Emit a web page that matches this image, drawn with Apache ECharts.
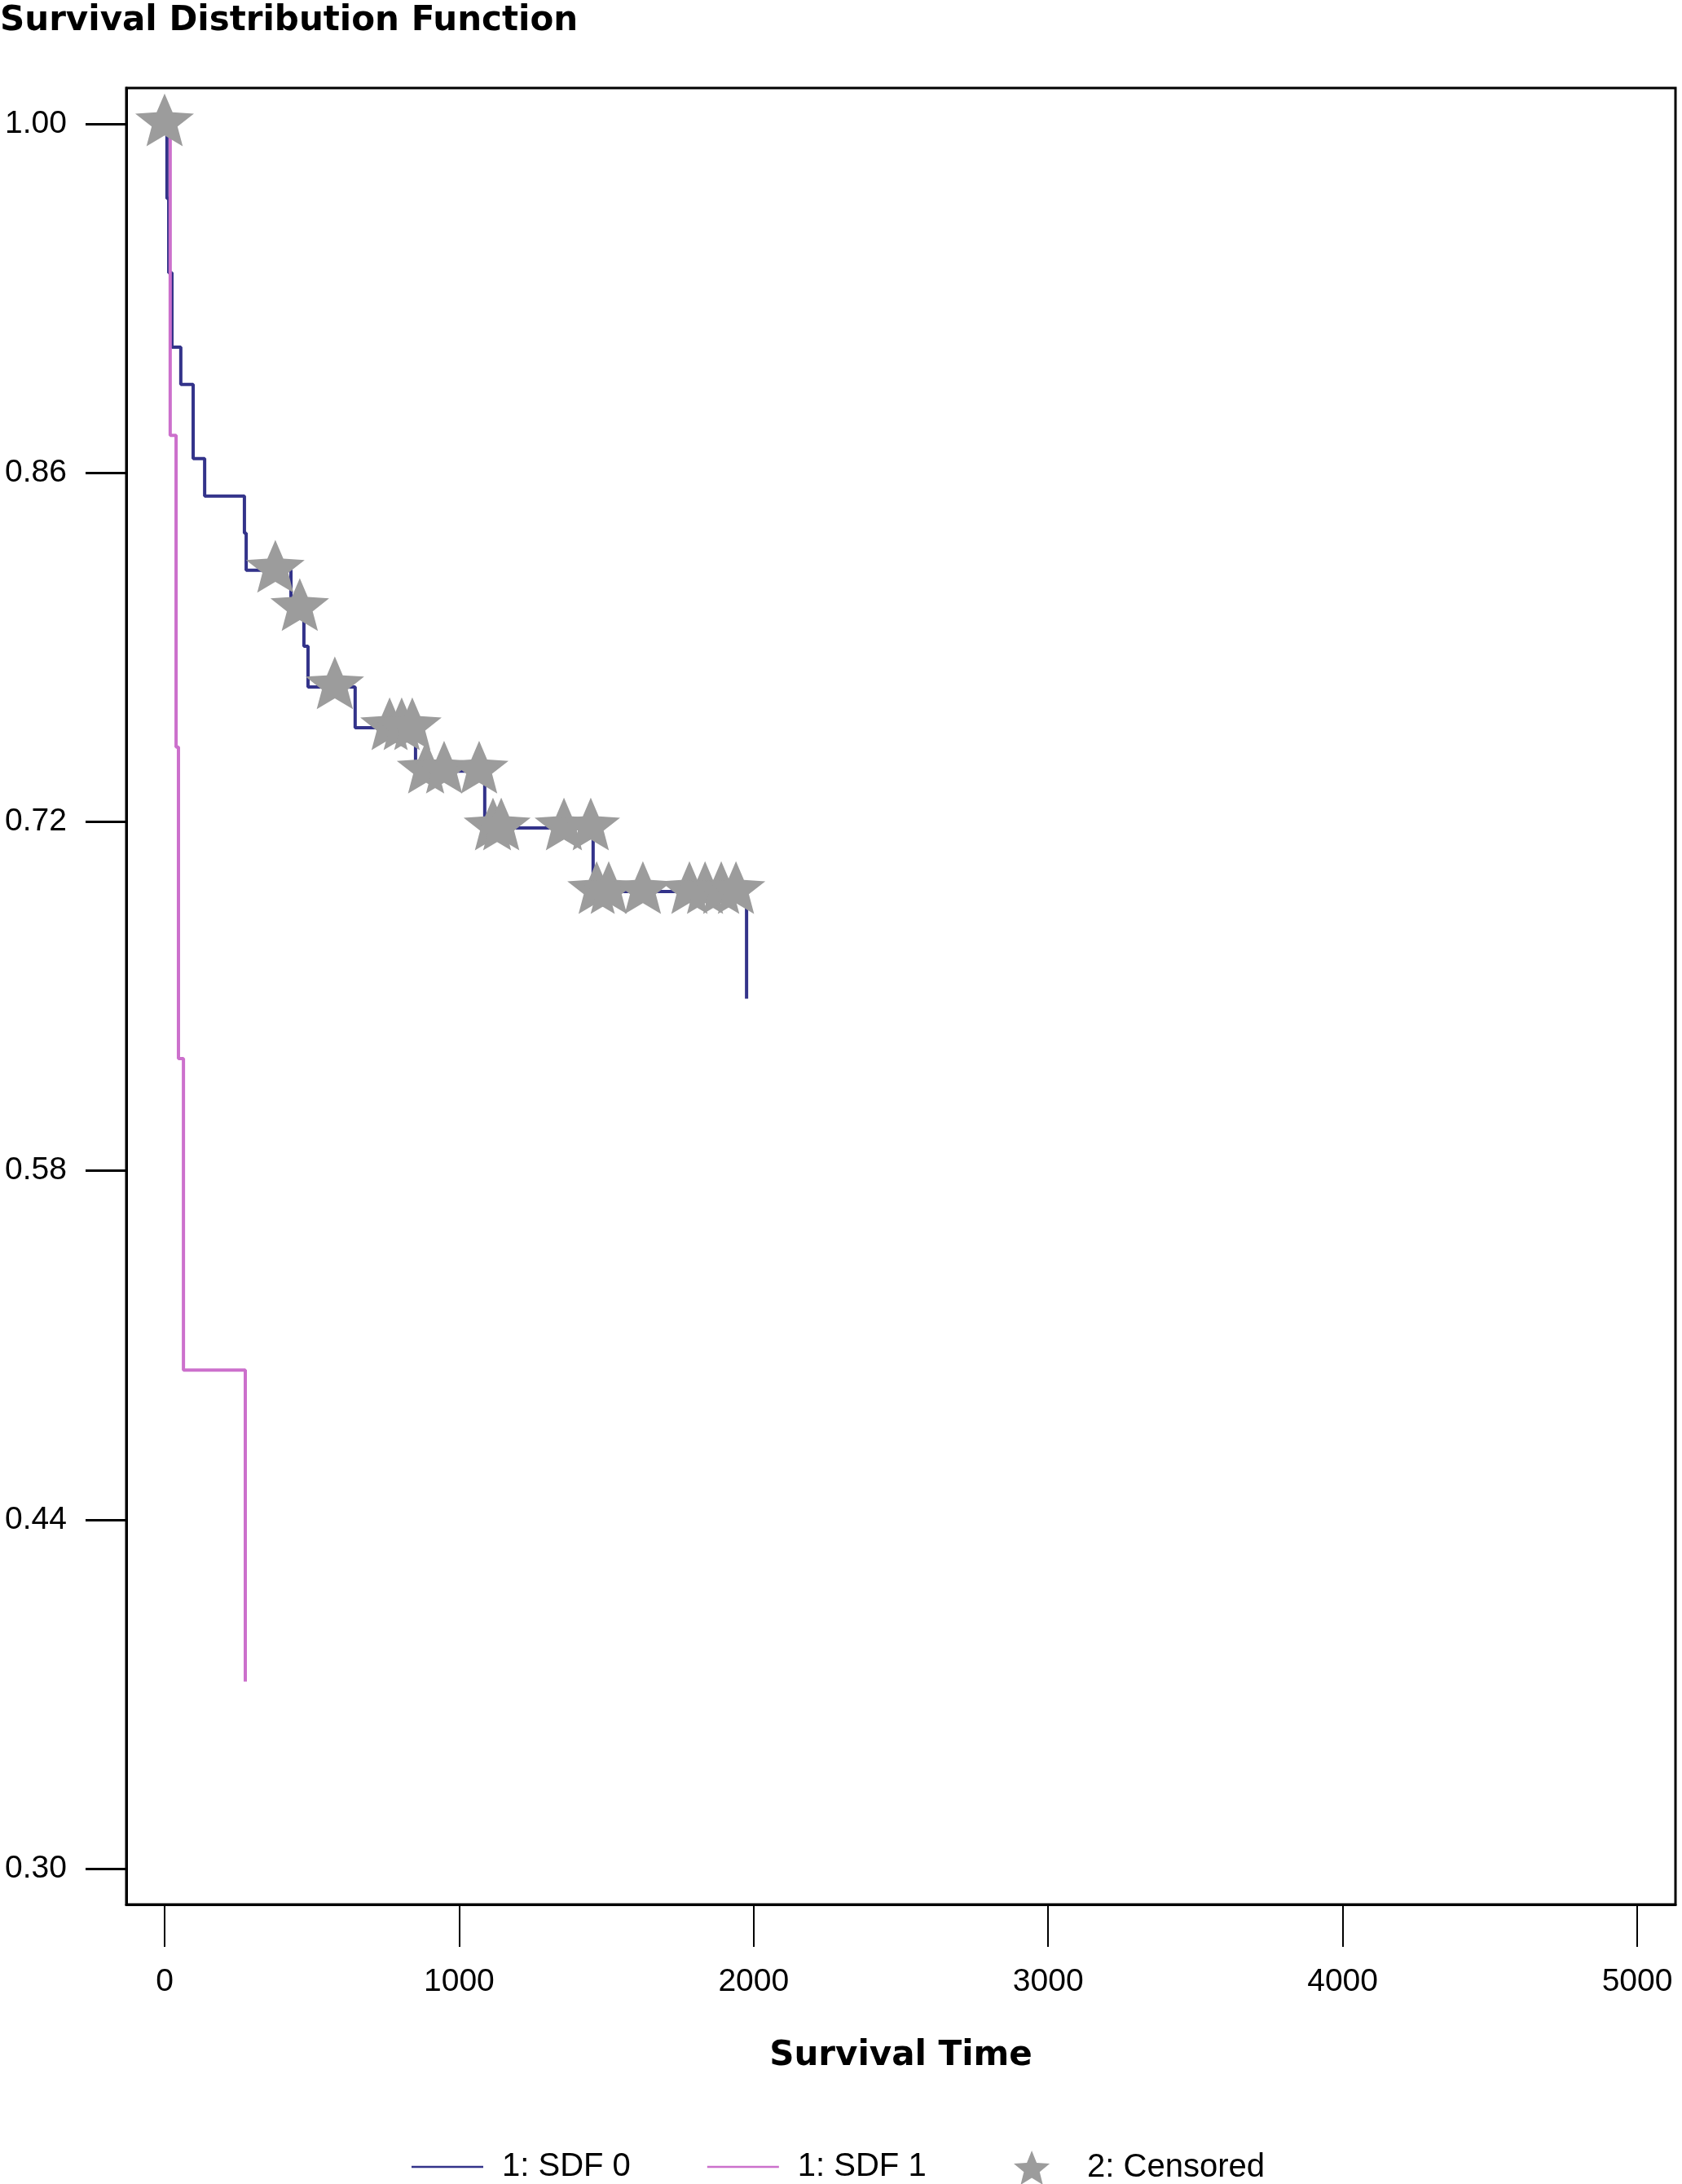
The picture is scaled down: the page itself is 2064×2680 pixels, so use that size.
<!DOCTYPE html>
<html>
<head>
<meta charset="utf-8">
<title>Survival Distribution Function</title>
<script src="https://cdn.jsdelivr.net/npm/echarts@6/dist/echarts.min.js"></script>
<style>
  html, body { margin: 0; padding: 0; background: #fff; }
  #main { width: 2064px; height: 2680px; }
</style>
</head>
<body>
<div id="main"></div>
<script>
// step points: time where the curve drops, and the new survival value
const sdf0Time = [0, 8, 14, 25, 55, 97, 136, 271, 277, 429, 473, 487, 647, 852, 1087, 1455, 1976];
const sdf0Surv = [1, 0.9701, 0.9403, 0.9104, 0.8955, 0.8657, 0.8507, 0.8358, 0.8209, 0.8055, 0.7904, 0.7741, 0.7577, 0.7403, 0.7175, 0.692, 0.649];

const sdf1Time = [0, 19, 39, 47, 64, 274];
const sdf1Surv = [1, 0.875, 0.75, 0.625, 0.5, 0.375];

// censored observations
const censTime = [0, 376, 459, 578, 764, 805, 841, 888, 949, 1068, 1115, 1143, 1356, 1447, 1467, 1508, 1624, 1782, 1835, 1890, 1940];
const censSurv = [1, 0.8209, 0.8055, 0.7741, 0.7577, 0.7577, 0.7577, 0.7403, 0.7403, 0.7403, 0.7175, 0.7175, 0.7175, 0.7175, 0.692, 0.692, 0.692, 0.692, 0.692, 0.692, 0.692];

const xTicks = [0, 1000, 2000, 3000, 4000, 5000];
const yTicks = [0.30, 0.44, 0.58, 0.72, 0.86, 1.00];

const navy = '#33338a';
const pink = '#cc70cc';
const grey = '#9c9c9c';
const star = 'path://M50,0 L62.93,32.2 L97.55,34.55 L70.92,56.8 L79.39,90.45 L50,72 L20.61,90.45 L29.08,56.8 L2.45,34.55 L37.07,32.2 Z';
const bar = 'path://M0,0 L100,0 L100,3 L0,3 Z';
const sans = '"Liberation Sans", Arial, sans-serif';
const boldFont = '"DejaVu Sans", Verdana, sans-serif';

const pairs = (xs, ys) => xs.map((x, i) => [x, ys[i]]);

const legendText = {
    fontFamily: sans,
    fontSize: 40,
    color: '#000'
};

let myChart = echarts.init(document.getElementById('main'));

myChart.setOption({
    animation: false,
    backgroundColor: '#fff',
    title: {
        text: 'Survival Distribution Function',
        left: 0,
        top: 5,
        padding: 0,
        textStyle: {
            fontFamily: boldFont,
            fontWeight: 'bold',
            fontSize: 42,
            color: '#000'
        }
    },
    legend: [
        {
            left: 500,
            top: 2634,
            itemWidth: 88,
            itemHeight: 42,
            itemGap: 94,
            textStyle: Object.assign({ padding: [0, 0, 0, 18] }, legendText),
            data: [
                { name: '1: SDF 0', icon: bar, itemStyle: { color: navy } },
                { name: '1: SDF 1', icon: bar, itemStyle: { color: pink } }
            ]
        },
        {
            left: 1239,
            top: 2634,
            itemWidth: 88,
            itemHeight: 42,
            textStyle: Object.assign({ padding: [0, 0, 0, 19] }, legendText),
            data: [
                { name: '2: Censored', icon: star, itemStyle: { color: grey } }
            ]
        }
    ],
    grid: {
        left: 155,
        top: 108,
        right: 8,
        bottom: 343,
        show: true,
        borderColor: '#000',
        borderWidth: 3,
        outerBoundsMode: 'none'
    },
    xAxis: {
        type: 'value',
        min: -130,
        max: 5130,
        name: 'Survival Time',
        nameLocation: 'middle',
        nameGap: 165,
        nameTextStyle: {
            fontFamily: boldFont,
            fontWeight: 'bold',
            fontSize: 42,
            color: '#000'
        },
        splitLine: { show: false },
        axisLine: { show: true, onZero: false, lineStyle: { color: '#000', width: 3 } },
        axisTick: {
            show: true,
            length: 52,
            customValues: xTicks,
            lineStyle: { color: '#000', width: 2 }
        },
        axisLabel: {
            customValues: xTicks,
            formatter: v => String(v),
            margin: 76,
            fontFamily: sans,
            fontSize: 39,
            color: '#000'
        }
    },
    yAxis: {
        type: 'value',
        min: 0.2856,
        max: 1.0144,
        splitLine: { show: false },
        axisLine: { show: true, onZero: false, lineStyle: { color: '#000', width: 3 } },
        axisTick: {
            show: true,
            length: 50,
            customValues: yTicks,
            lineStyle: { color: '#000', width: 3 }
        },
        axisLabel: {
            customValues: yTicks,
            formatter: v => v.toFixed(2),
            margin: 73,
            fontFamily: sans,
            fontSize: 39,
            color: '#000'
        }
    },
    series: [
        {
            name: '1: SDF 0',
            type: 'line',
            step: 'end',
            data: pairs(sdf0Time, sdf0Surv),
            symbol: 'none',
            lineStyle: { color: navy, width: 4 },
            itemStyle: { color: navy },
            z: 2
        },
        {
            name: '1: SDF 1',
            type: 'line',
            step: 'end',
            data: pairs(sdf1Time, sdf1Surv),
            symbol: 'none',
            lineStyle: { color: pink, width: 4 },
            itemStyle: { color: pink },
            z: 3
        },
        {
            name: '2: Censored',
            type: 'scatter',
            data: pairs(censTime, censSurv),
            symbol: star,
            symbolSize: [72, 68],
            symbolKeepAspect: true,
            symbolOffset: [0, -5],
            itemStyle: { color: grey, opacity: 1 },
            z: 4
        }
    ]
});
</script>
</body>
</html>
